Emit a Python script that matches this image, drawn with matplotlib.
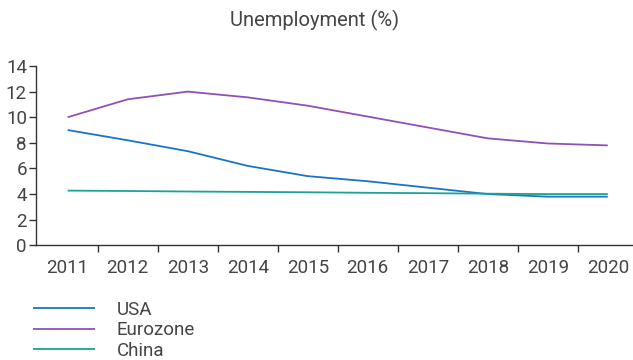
import matplotlib
matplotlib.use("Agg")
import matplotlib.pyplot as plt
from matplotlib.ticker import FixedLocator

years = ["2011", "2012", "2013", "2014", "2015", "2016", "2017", "2018", "2019", "2020"]
usa = [9.0, 8.2, 7.35, 6.2, 5.4, 5.0, 4.5, 4.0, 3.8, 3.8]
eurozone = [10.0, 11.4, 12.0, 11.55, 10.9, 10.05, 9.2, 8.35, 7.95, 7.8]
china = [4.27, 4.24, 4.2, 4.17, 4.14, 4.1, 4.07, 4.03, 4.0, 4.0]
series_names = ["USA", "Eurozone", "China"]
colors = ["#1a74c6", "#9150b5", "#19a497"]
yticks = [0, 2, 4, 6, 8, 10, 12, 14]

plt.rcParams['font.family'] = ['Roboto', 'DejaVu Sans']
plt.rcParams['font.weight'] = 'normal'
text_color = "#444444"

W, H = 633, 360
fig = plt.figure(figsize=(W / 100, H / 100), dpi=100)
left, right, bottom, top = 36, 633, 245.3, 66
ax = fig.add_axes([left / W, 1 - bottom / H, (right - left) / W, (bottom - top) / H])

x = list(range(len(years)))
lines = []
for vals, name, c in zip([usa, eurozone, china], series_names, colors):
    ln, = ax.plot(x, vals, color=c, lw=1.3, label=name, solid_capstyle='butt')
    lines.append(ln)

ax.set_xlim(-0.528, 9.42)
ax.set_ylim(0, 14)
ax.set_yticks(yticks)
ax.set_yticklabels([str(v) for v in yticks])
ax.set_xticks(x)
ax.set_xticklabels(years)
ax.xaxis.set_minor_locator(FixedLocator([i + 0.5 for i in range(len(years) - 1)]))
ax.tick_params(axis='x', which='major', length=0, pad=10, labelsize=13.5, labelcolor=text_color)
ax.tick_params(axis='x', which='minor', length=5, width=1, color="#333333", direction='out')
ax.tick_params(axis='y', length=5, width=1, color="#333333", pad=1.5, labelsize=13.5, labelcolor=text_color)

for s in ["top", "right"]:
    ax.spines[s].set_visible(False)
for s in ["left", "bottom"]:
    ax.spines[s].set_color("#333333")
    ax.spines[s].set_linewidth(1)

fig.text(315 / W, 1 - 20 / H, "Unemployment (%)", ha='center', va='center',
         fontsize=14.5, color=text_color)

leg = fig.legend(handles=lines, labels=series_names, loc='upper left',
                 bbox_to_anchor=(33 / W, 1 - 301 / H), frameon=False,
                 fontsize=13.5, handlelength=3.3, handletextpad=1.15,
                 labelspacing=0.12, borderaxespad=0, borderpad=0)
for t in leg.get_texts():
    t.set_color(text_color)

fig.savefig("out.png", dpi=100)
